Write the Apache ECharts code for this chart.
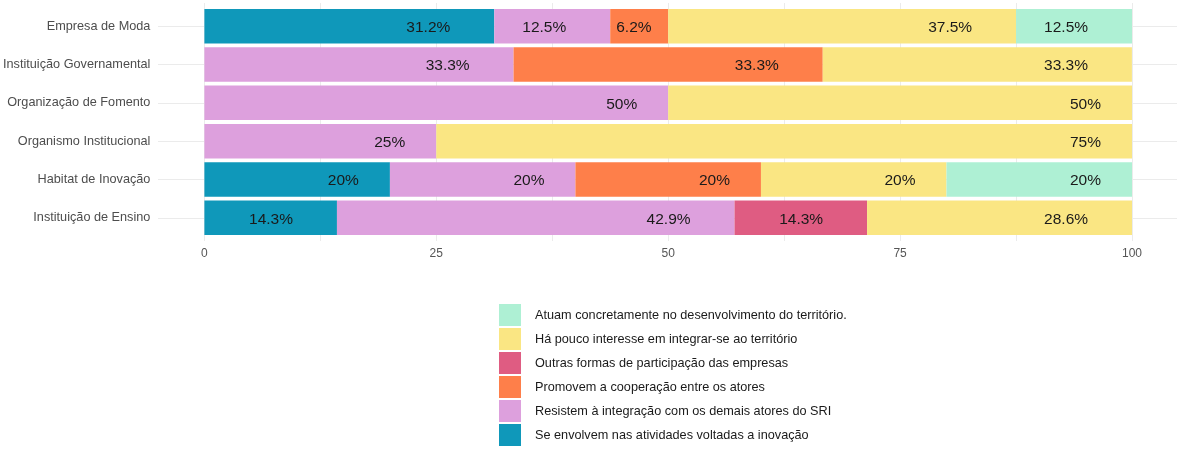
<!DOCTYPE html>
<html>
<head>
<meta charset="utf-8">
<title>Participação por tipo de ator</title>
<script src="https://cdn.jsdelivr.net/npm/echarts@6/dist/echarts.min.js"></script>
<style>
  html, body { margin: 0; padding: 0; background: #fff; }
  #chart { width: 1177px; height: 451px; }
</style>
</head>
<body>
<div id="chart"></div>
<script>
// categories, top to bottom
const categories = [
  'Empresa de Moda',
  'Instituição Governamental',
  'Organização de Fomento',
  'Organismo Institucional',
  'Habitat de Inovação',
  'Instituição de Ensino'
];

// percentages per group (same order as categories)
const seEnvolvem = [31.25, 0, 0, 0, 20, 14.29];
const resistem = [12.5, 33.33, 50, 25, 20, 42.86];
const promovem = [6.25, 33.33, 0, 0, 20, 0];
const outrasFormas = [0, 0, 0, 0, 0, 14.29];
const haPouco = [37.5, 33.33, 50, 75, 20, 28.57];
const atuam = [12.5, 0, 0, 0, 20, 0];

const xTicks = [0, 25, 50, 75, 100];

// stacking order, left to right
const groups = [
  { name: 'Se envolvem nas atividades voltadas a inovação', values: seEnvolvem, color: '#0f98ba' },
  { name: 'Resistem à integração com os demais atores do SRI', values: resistem, color: '#dda0dd' },
  { name: 'Promovem a cooperação entre os atores', values: promovem, color: '#fe7f4a' },
  { name: 'Outras formas de participação das empresas', values: outrasFormas, color: '#df5c82' },
  { name: 'Há pouco interesse em integrar-se ao território', values: haPouco, color: '#fae683' },
  { name: 'Atuam concretamente no desenvolvimento do território.', values: atuam, color: '#aef0d4' }
];

const font = '"Liberation Sans", Arial, Helvetica, sans-serif';

// round half to even, one decimal, like R's round()
function fmt(v) {
  const x = v * 10;
  const f = Math.floor(x);
  let r;
  if (Math.abs(x - f - 0.5) < 1e-9) r = (f % 2 === 0) ? f : f + 1;
  else r = Math.round(x);
  return String(r / 10);
}

const chart = echarts.init(document.getElementById('chart'));

const series = groups.map(g => ({
  name: g.name,
  type: 'bar',
  stack: 'total',
  xAxisIndex: 0,
  yAxisIndex: 0,
  barCategoryGap: '10%',
  itemStyle: { color: g.color },
  label: {
    show: true,
    formatter: p => fmt(p.value) + '%',
    fontFamily: font,
    fontSize: 15.5,
    color: '#1a1a1a'
  },
  // label right edge one label-width before the segment end,
  // but kept inside narrow segments
  labelLayout: p => {
    const w = p.labelRect.width;
    const end = p.rect.x + p.rect.width;
    return {
      x: Math.max(end - 1.5 * w, p.rect.x + w / 2 + 6),
      y: p.rect.y + p.rect.height / 2 + 1.5,
      align: 'center',
      verticalAlign: 'middle'
    };
  },
  data: g.values.map(v => (v === 0 ? '-' : v))
}));

const option = {
  animation: false,
  backgroundColor: '#fff',
  textStyle: { fontFamily: font },
  legend: {
    orient: 'vertical',
    left: 499,
    top: 304,
    padding: 0,
    itemWidth: 22,
    itemHeight: 22,
    itemGap: 2,
    icon: 'rect',
    selectedMode: false,
    data: groups.slice().reverse().map(g => g.name),
    textStyle: {
      fontFamily: font,
      fontSize: 12.7,
      color: '#1a1a1a',
      padding: [0, 0, 0, 9]
    }
  },
  grid: [
    { left: 204.3, right: 45, top: 7, height: 230 },
    { left: 204.3, right: 45, top: 3, height: 238 },
    { left: 158, right: 0, top: 26.2, height: 191.6 }
  ],
  xAxis: [
    {
      gridIndex: 0,
      type: 'value',
      min: 0,
      max: 100,
      interval: 25,
      axisLine: { show: false },
      axisTick: { show: false },
      splitLine: { show: false },
      axisLabel: {
        margin: 11,
        fontFamily: font,
        fontSize: 12,
        color: '#555',
        formatter: v => (xTicks.includes(v) ? String(v) : '')
      }
    },
    {
      gridIndex: 1,
      type: 'value',
      min: 0,
      max: 100,
      interval: 12.5,
      axisLine: { show: false },
      axisTick: { show: false },
      axisLabel: { show: false },
      splitLine: { show: true, lineStyle: { color: '#ebebeb', width: 1 } }
    },
    { gridIndex: 2, type: 'value', min: 0, max: 1, show: false }
  ],
  yAxis: [
    {
      gridIndex: 0,
      type: 'category',
      inverse: true,
      data: categories,
      axisLine: { show: false },
      axisTick: { show: false },
      splitLine: { show: false },
      axisLabel: {
        margin: 54,
        fontFamily: font,
        fontSize: 12.7,
        color: '#4d4d4d'
      }
    },
    { gridIndex: 1, type: 'value', min: 0, max: 1, show: false },
    {
      gridIndex: 2,
      type: 'category',
      inverse: true,
      boundaryGap: false,
      data: categories,
      axisLine: { show: false },
      axisTick: { show: false },
      axisLabel: { show: false },
      splitLine: { show: true, lineStyle: { color: '#ebebeb', width: 1 } }
    }
  ],
  series: series
};

chart.setOption(option);
</script>
</body>
</html>
